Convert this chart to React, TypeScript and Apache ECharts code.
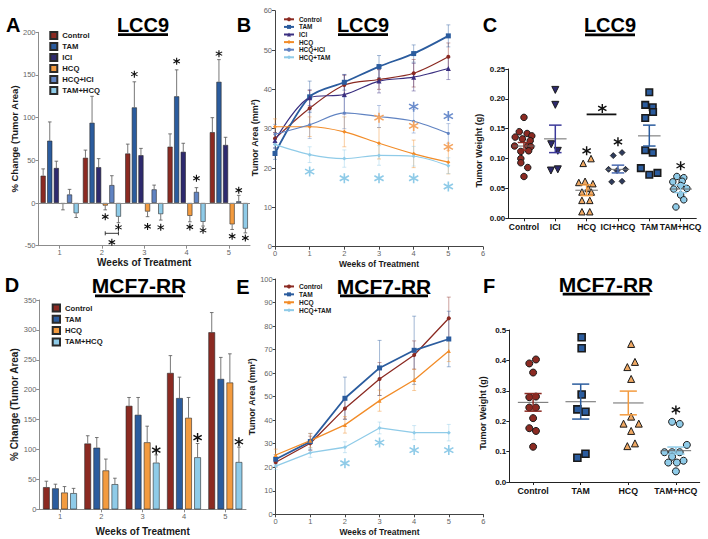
import React, { useEffect, useRef } from 'react';
import * as echarts from 'echarts';

const FONT = 'Liberation Sans, Arial, sans-serif';

const C_CTRL = '#8B2A22';
const C_TAM = '#2B5C9E';
const C_ICI = '#2E2A6E';
const C_HCQ = '#F39B3F';
const C_HCQICI = '#6083C2';
const C_TAMHCQ = '#8FCBE8';
const C_HCQPT = '#EFA863';
const C_ICIHCQPT = '#2E3B5C';

// ---------- Panel A (LCC9, % change bars) ----------
const weeksA = ['1', '2', '3', '4', '5'];
const groupsA = ['Control', 'TAM', 'ICI', 'HCQ', 'HCQ+ICI', 'TAM+HCQ'];
const aControl = [32, 53, 58, 66, 83];
const aTAM = [73, 94, 112, 125, 142];
const aICI = [41, 42, 56, 60, 68];
const aHCQ = [-1, -3, -10, -15, -25];
const aHCQICI = [10, 21, 16, 13, 2];
const aTAMHCQ = [-12, -16, -13, -22, -30];
const aErrControl = [8, 9, 11, 15, 17];
const aErrTAM = [22, 31, 30, 31, 26];
const aErrICI = [8, 10, 8, 10, 9];
const aErrHCQ = [7, 5, 6, 7, 6];
const aErrHCQICI = [6, 11, 5, 5, 7];
const aErrTAMHCQ = [5, 7, 7, 5, 5];
// [week, group index, y]
const aStars = [
  [2, 3, -16], [2, 5, -28.5],
  [3, 1, 151], [3, 3, -27.5], [3, 5, -28.5],
  [4, 1, 166], [4, 4, 29], [4, 3, -28], [4, 5, -32],
  [5, 1, 175], [5, 4, 15], [5, 3, -39], [5, 5, -41],
];
// [week, from group, to group, line y, star y]
const aBracket = [[2, 3, 5, -35.5, -46]];

// ---------- Panel B (LCC9, tumor area lines) ----------
const bWeeks = [0, 1, 2, 3, 4, 5];
const groupsB = ['Control', 'TAM', 'ICI', 'HCQ', 'HCQ+ICI', 'HCQ+TAM'];
const bControl = [27.5, 35.2, 41.1, 42.5, 44.1, 48.3];
const bTAM = [23.7, 38.1, 41.8, 45.8, 49.1, 53.6];
const bICI = [27.0, 37.9, 38.7, 42.1, 43.1, 45.3];
const bHCQ = [30.5, 30.5, 29.2, 26.3, 23.6, 21.5];
const bHCQICI = [28.6, 31.0, 34.0, 33.1, 31.9, 28.8];
const bHCQTAM = [26.0, 23.4, 22.4, 23.2, 23.0, 20.6];
const bErrControl = [1.5, 4.5, 2.5, 2.5, 3.5, 3.5];
const bErrTAM = [1.5, 4, 2, 2.8, 2.2, 2.8];
const bErrICI = [2, 2, 5, 3, 3.5, 2.8];
const bErrHCQ = [2, 2.5, 3.8, 4, 3.5, 3];
const bErrHCQICI = [2.5, 3.5, 4, 2.8, 3, 2.5];
const bErrHCQTAM = [1.5, 2, 2.2, 2.5, 2.5, 2];
const bStarsHCQTAM = [[1, 19.1], [2, 17.4], [3, 17.4], [4, 17.4], [5, 15.3]];
const bStarsHCQ = [[3, 32.8], [4, 30.7], [5, 25.4]];
const bStarsHCQICI = [[4, 35.6], [5, 33.2]];

// ---------- Panel C (LCC9, tumor weight) ----------
const groupsC = ['Control', 'ICI', 'HCQ', 'ICI+HCQ', 'TAM', 'TAM+HCQ'];
// [jitter offset, weight]
const cControl = [[0, 0.169], [-0.15, 0.145], [0.1, 0.142], [-0.28, 0.136], [0.25, 0.138], [-0.05, 0.133], [0.2, 0.13], [-0.3, 0.121], [0.12, 0.121], [0.22, 0.12], [-0.1, 0.112], [0.15, 0.113], [-0.1, 0.1], [-0.1, 0.093], [0.12, 0.085], [0, 0.07]];
const cICI = [[0, 0.215], [0, 0.19], [-0.13, 0.124], [0.08, 0.113], [-0.14, 0.08], [0.08, 0.082]];
const cHCQ = [[0.14, 0.1], [-0.11, 0.092], [-0.25, 0.06], [-0.05, 0.062], [0.2, 0.058], [0.05, 0.05], [-0.15, 0.044], [0.15, 0.044], [-0.15, 0.03], [0.1, 0.03], [-0.15, 0.011], [0.1, 0.011]];
const cICIHCQ = [[-0.15, 0.105], [0.13, 0.11], [-0.3, 0.082], [-0.03, 0.08], [0.24, 0.082], [-0.2, 0.061], [0.13, 0.062]];
const cTAM = [[0, 0.211], [-0.13, 0.19], [0.11, 0.186], [0.12, 0.178], [-0.13, 0.168], [-0.13, 0.114], [0.11, 0.11], [-0.27, 0.084], [0, 0.073], [0.26, 0.076]];
const cTAMHCQ = [[-0.12, 0.07], [0.1, 0.068], [-0.25, 0.061], [0.05, 0.062], [0.2, 0.05], [-0.22, 0.049], [0, 0.055], [0, 0.039], [0.1, 0.031], [-0.15, 0.019]];
const cMean = [0.121, 0.133, 0.047, 0.082, 0.138, 0.049];
const cSemLo = [0.114, 0.110, 0.038, 0.076, 0.121, 0.043];
const cSemHi = [0.127, 0.156, 0.056, 0.089, 0.156, 0.056];
const cStars = [[2, 0.113], [3, 0.128], [5, 0.088], [2.5, 0.184]];
const cBracket = [[2, 2.95, 0.174]];

// ---------- Panel D (MCF7-RR, % change bars) ----------
const weeksD = ['1', '2', '3', '4', '5'];
const groupsD = ['Control', 'TAM', 'HCQ', 'TAM+HCQ'];
const dControl = [37, 110, 173, 228, 296];
const dTAM = [35, 103, 158, 186, 218];
const dHCQ = [28, 65, 112, 153, 212];
const dTAMHCQ = [27, 42, 78, 87, 79];
const dErrControl = [10, 13, 14, 29, 33];
const dErrTAM = [7, 17, 29, 35, 36];
const dErrHCQ = [10, 19, 27, 34, 48];
const dErrTAMHCQ = [8, 10, 13, 23, 25];
const dStars = [[3, 3, 99], [4, 3, 120], [5, 3, 113]];

// ---------- Panel E (MCF7-RR, tumor area lines) ----------
const eWeeks = [0, 1, 2, 3, 4, 5];
const groupsE = ['Control', 'TAM', 'HCQ', 'HCQ+TAM'];
const eControl = [22.1, 30.2, 45.0, 57.5, 67.7, 83.3];
const eTAM = [23.4, 30.9, 49.3, 62.2, 69.7, 74.5];
const eHCQ = [25.2, 31.3, 38.0, 48.3, 57.1, 69.4];
const eHCQTAM = [20.5, 26.2, 28.5, 36.7, 34.7, 34.7];
const eErrControl = [2, 3, 4.5, 7, 6, 9];
const eErrTAM = [2, 3.5, 9, 11.7, 14.5, 11.8];
const eErrHCQ = [2.5, 3, 3.5, 4.5, 4.5, 4.5];
const eErrHCQTAM = [1.5, 2, 2.3, 2.5, 3, 3.5];
const eStars = [[2, 21.7], [3, 30.5], [4, 27.3], [5, 27.3]];

// ---------- Panel F (MCF7-RR, tumor weight) ----------
const groupsF = ['Control', 'TAM', 'HCQ', 'TAM+HCQ'];
const fControl = [[0.06, 0.403], [-0.08, 0.39], [0, 0.36], [-0.08, 0.279], [0.06, 0.281], [-0.08, 0.245], [0.06, 0.245], [0, 0.21], [-0.08, 0.177], [0.06, 0.168], [0, 0.116]];
const fTAM = [[0.02, 0.476], [0.02, 0.44], [0.02, 0.288], [-0.07, 0.239], [0.1, 0.231], [0.1, 0.093], [-0.07, 0.08]];
const fHCQ = [[0.06, 0.454], [0.14, 0.395], [-0.02, 0.378], [0.06, 0.339], [0.06, 0.215], [-0.1, 0.192], [0.22, 0.192], [0.06, 0.168], [0.14, 0.127], [-0.02, 0.118]];
const fTAMHCQ = [[-0.08, 0.198], [0.08, 0.191], [0.23, 0.122], [-0.24, 0.098], [-0.08, 0.098], [0.08, 0.098], [-0.08, 0.083], [0.16, 0.07], [-0.16, 0.064], [0.02, 0.064], [0, 0.035]];
const fMean = [0.262, 0.264, 0.26, 0.103];
const fSemLo = [0.233, 0.207, 0.221, 0.092];
const fSemHi = [0.291, 0.322, 0.299, 0.115];
const fStars = [[3, 0.237]];

const ASTERISK =
  'path://M-0.15,-1L0.15,-1L0.15,1L-0.15,1Z M0.791,-0.63L0.941,-0.37L-0.791,0.63L-0.941,0.37Z M0.941,0.37L0.791,0.63L-0.941,-0.37L-0.791,-0.63Z';

function barOffsets(n: number, catGap: number, gap: number) {
  const used = 1 - catGap;
  const w = used / (n + (n - 1) * gap);
  return Array.from({ length: n }, (_, i) => -used / 2 + w / 2 + i * w * (1 + gap));
}
const offA = barOffsets(6, 0.1, 0.3);
const offD = barOffsets(4, 0.18, 0.35);

const stripName = (n: string) => n.split('|')[1];

const axisGray = '#8c8c8c';
const labelGray = '#666';

function nameStyle(size: number, padding?: number[]) {
  const s: any = { fontWeight: 'bold', fontSize: size, color: '#1a1a1a', fontFamily: FONT };
  if (padding) s.padding = padding;
  return s;
}

function grayValueAxis(extra: any, lineColor: string) {
  return {
    type: 'value',
    axisLine: { show: true, onZero: false, lineStyle: { color: lineColor, width: 1 } },
    axisTick: { show: true, length: 3, lineStyle: { color: lineColor } },
    axisLabel: { color: labelGray, fontSize: 7.5, margin: 3, fontFamily: FONT },
    splitLine: { show: false },
    ...extra,
  };
}

function boldValueAxis(extra: any) {
  return {
    type: 'value',
    axisLine: { show: true, onZero: false, lineStyle: { color: '#222', width: 1 } },
    axisTick: { show: true, length: 3, lineStyle: { color: '#222' } },
    axisLabel: { color: '#111', fontSize: 8, fontWeight: 'bold', margin: 3, fontFamily: FONT },
    splitLine: { show: false },
    ...extra,
  };
}

function oneSidedErr(color: string) {
  return (params: any, api: any) => {
    const x = api.value(0);
    const v = api.value(1);
    const e = api.value(2);
    const end = v >= 0 ? v + e : v - e;
    const p0 = api.coord([x, v]);
    const p1 = api.coord([x, end]);
    const st = { stroke: color, lineWidth: 0.8 };
    return {
      type: 'group',
      children: [
        { type: 'line', shape: { x1: p0[0], y1: p0[1], x2: p1[0], y2: p1[1] }, style: st },
        { type: 'line', shape: { x1: p1[0] - 1.8, y1: p1[1], x2: p1[0] + 1.8, y2: p1[1] }, style: st },
      ],
    };
  };
}

function twoSidedErr(colors: string[]) {
  return (params: any, api: any) => {
    const x = api.value(0);
    const v = api.value(1);
    const e = api.value(2);
    const g = api.value(3);
    const lo = api.coord([x, v - e]);
    const hi = api.coord([x, v + e]);
    const st = { stroke: colors[g], lineWidth: 0.8, opacity: 0.55 };
    return {
      type: 'group',
      children: [
        { type: 'line', shape: { x1: lo[0], y1: lo[1], x2: hi[0], y2: hi[1] }, style: st },
        { type: 'line', shape: { x1: lo[0] - 2, y1: lo[1], x2: lo[0] + 2, y2: lo[1] }, style: st },
        { type: 'line', shape: { x1: hi[0] - 2, y1: hi[1], x2: hi[0] + 2, y2: hi[1] }, style: st },
      ],
    };
  };
}

function meanSem(colors: string[], meanHalf: number, capHalf: number) {
  return (params: any, api: any) => {
    const i = api.value(0);
    const m = api.value(1);
    const lo = api.value(2);
    const hi = api.value(3);
    const a = api.coord([i - meanHalf, m]);
    const b = api.coord([i + meanHalf, m]);
    const l = api.coord([i, lo]);
    const h = api.coord([i, hi]);
    const cl = api.coord([i - capHalf, lo]);
    const cr = api.coord([i + capHalf, lo]);
    const hl = api.coord([i - capHalf, hi]);
    const hr = api.coord([i + capHalf, hi]);
    const col = colors[params.dataIndex];
    const sem = { stroke: col, lineWidth: 1.5 };
    return {
      type: 'group',
      children: [
        { type: 'line', shape: { x1: a[0], y1: a[1], x2: b[0], y2: b[1] }, style: { stroke: '#6b6b6b', lineWidth: 1 } },
        { type: 'line', shape: { x1: l[0], y1: l[1], x2: h[0], y2: h[1] }, style: sem },
        { type: 'line', shape: { x1: cl[0], y1: cl[1], x2: cr[0], y2: cr[1] }, style: sem },
        { type: 'line', shape: { x1: hl[0], y1: hl[1], x2: hr[0], y2: hr[1] }, style: sem },
      ],
    };
  };
}

function starSeries(data: number[][], xi: number, yi: number, color: string, size: number) {
  return {
    type: 'scatter',
    xAxisIndex: xi,
    yAxisIndex: yi,
    symbol: ASTERISK,
    symbolSize: size,
    itemStyle: { color, opacity: 1 },
    data,
    silent: true,
    z: 5,
  };
}

function buildOption(): any {
  const series: any[] = [];

  // ----- A -----
  const aVals = [aControl, aTAM, aICI, aHCQ, aHCQICI, aTAMHCQ];
  const aErrs = [aErrControl, aErrTAM, aErrICI, aErrHCQ, aErrHCQICI, aErrTAMHCQ];
  const aColors = [C_CTRL, C_TAM, C_ICI, C_HCQ, C_HCQICI, C_TAMHCQ];
  aVals.forEach((vals, g) => {
    const s: any = {
      type: 'bar',
      name: 'A|' + groupsA[g],
      xAxisIndex: 0,
      yAxisIndex: 0,
      data: vals,
      barGap: '30%',
      barCategoryGap: '10%',
      itemStyle: { color: aColors[g], borderColor: '#2a2a2a', borderWidth: 0.6 },
    };
    if (g === 0) {
      s.markLine = {
        silent: true,
        symbol: ['none', 'none'],
        label: { show: false },
        lineStyle: { color: axisGray, type: 'solid', width: 1 },
        data: [{ yAxis: 0 }],
      };
    }
    series.push(s);
  });
  const aErrData: number[][] = [];
  aVals.forEach((vals, g) => vals.forEach((v, k) => aErrData.push([k + 1 + offA[g], v, aErrs[g][k]])));
  series.push({ type: 'custom', xAxisIndex: 1, yAxisIndex: 0, data: aErrData, renderItem: oneSidedErr('#555'), silent: true, z: 3 });
  const aStarData = aStars.map(([w, g, y]) => [w + offA[g], y]);
  aBracket.forEach(([w, g1, g2, , ys]) => aStarData.push([w + (offA[g1] + offA[g2]) / 2, ys]));
  series.push(starSeries(aStarData, 1, 0, '#111', 7));
  series.push({
    type: 'custom',
    xAxisIndex: 1,
    yAxisIndex: 0,
    encode: { x: [0, 1], y: 2 },
    data: aBracket.map(([w, g1, g2, y]) => [w + offA[g1], w + offA[g2], y]),
    silent: true,
    renderItem: (params: any, api: any) => {
      const p1 = api.coord([api.value(0), api.value(2)]);
      const p2 = api.coord([api.value(1), api.value(2)]);
      const st = { stroke: '#222', lineWidth: 0.9 };
      return {
        type: 'group',
        children: [
          { type: 'line', shape: { x1: p1[0], y1: p1[1], x2: p2[0], y2: p2[1] }, style: st },
          { type: 'line', shape: { x1: p1[0], y1: p1[1] - 2, x2: p1[0], y2: p1[1] + 2 }, style: st },
          { type: 'line', shape: { x1: p2[0], y1: p2[1] - 2, x2: p2[0], y2: p2[1] + 2 }, style: st },
        ],
      };
    },
  });

  // ----- B -----
  const bVals = [bControl, bTAM, bICI, bHCQ, bHCQICI, bHCQTAM];
  const bErrs = [bErrControl, bErrTAM, bErrICI, bErrHCQ, bErrHCQICI, bErrHCQTAM];
  const bColors = [C_CTRL, C_TAM, '#3A2F80', '#F28C28', C_HCQICI, C_TAMHCQ];
  const bSymbols = ['circle', 'rect', 'triangle', 'diamond', 'circle', 'diamond'];
  const bSizes = [4, 5, 5, 4, 3, 4];
  const bErrData: number[][] = [];
  bVals.forEach((vals, g) => vals.forEach((v, k) => bErrData.push([bWeeks[k], v, bErrs[g][k], g])));
  series.push({ type: 'custom', xAxisIndex: 2, yAxisIndex: 1, data: bErrData, renderItem: twoSidedErr(bColors), silent: true, z: 1 });
  bVals.forEach((vals, g) => {
    series.push({
      type: 'line',
      name: 'B|' + groupsB[g],
      xAxisIndex: 2,
      yAxisIndex: 1,
      data: vals.map((v, k) => [bWeeks[k], v]),
      smooth: 0.3,
      symbol: bSymbols[g],
      symbolSize: bSizes[g],
      showSymbol: true,
      lineStyle: { color: bColors[g], width: g === 1 ? 1.8 : 1.2 },
      itemStyle: { color: bColors[g] },
      z: 2,
    });
  });
  series.push(starSeries(bStarsHCQTAM, 2, 1, '#8FCBE8', 10));
  series.push(starSeries(bStarsHCQ, 2, 1, '#F4A460', 10));
  series.push(starSeries(bStarsHCQICI, 2, 1, '#6A8CCC', 10));

  // ----- C -----
  const cPts = [cControl, cICI, cHCQ, cICIHCQ, cTAM, cTAMHCQ];
  const cFill = [C_CTRL, C_ICI, C_HCQPT, C_ICIHCQPT, C_TAM, C_TAMHCQ];
  const cSym = ['circle', 'triangle', 'triangle', 'diamond', 'rect', 'circle'];
  const cRot = [0, 180, 0, 0, 0, 0];
  const cSize = [6.5, 7, 6.5, 6, 6.5, 6.5];
  const cBorder = [1, 1, 1, 0.8, 1.6, 1];
  cPts.forEach((pts, g) => {
    series.push({
      type: 'scatter',
      name: 'C|' + groupsC[g],
      xAxisIndex: 4,
      yAxisIndex: 2,
      symbol: cSym[g],
      symbolRotate: cRot[g],
      symbolSize: cSize[g],
      itemStyle: { color: cFill[g], borderColor: '#1a1a1a', borderWidth: cBorder[g], opacity: 1 },
      data: pts.map(([o, v]) => [g + o, v]),
      z: 2,
    });
  });
  const cSemColors = [C_CTRL, '#3C3A9A', C_HCQ, '#4A6AB0', C_TAM, C_TAMHCQ];
  series.push({
    type: 'custom',
    xAxisIndex: 4,
    yAxisIndex: 2,
    data: cMean.map((m, i) => [i, m, cSemLo[i], cSemHi[i]]),
    renderItem: meanSem(cSemColors, 0.36, 0.2),
    silent: true,
    z: 3,
  });
  series.push(starSeries(cStars, 4, 2, '#111', 9));
  series.push({
    type: 'custom',
    xAxisIndex: 4,
    yAxisIndex: 2,
    encode: { x: [0, 1], y: 2 },
    data: cBracket,
    silent: true,
    renderItem: (params: any, api: any) => {
      const p1 = api.coord([api.value(0), api.value(2)]);
      const p2 = api.coord([api.value(1), api.value(2)]);
      return { type: 'line', shape: { x1: p1[0], y1: p1[1], x2: p2[0], y2: p2[1] }, style: { stroke: '#111', lineWidth: 1.8 } };
    },
  });

  // ----- D -----
  const dVals = [dControl, dTAM, dHCQ, dTAMHCQ];
  const dErrs = [dErrControl, dErrTAM, dErrHCQ, dErrTAMHCQ];
  const dColors = [C_CTRL, C_TAM, C_HCQ, C_TAMHCQ];
  dVals.forEach((vals, g) => {
    series.push({
      type: 'bar',
      name: 'D|' + groupsD[g],
      xAxisIndex: 5,
      yAxisIndex: 3,
      data: vals,
      barGap: '35%',
      barCategoryGap: '18%',
      itemStyle: { color: dColors[g], borderColor: '#2a2a2a', borderWidth: 0.6 },
    });
  });
  const dErrData: number[][] = [];
  dVals.forEach((vals, g) => vals.forEach((v, k) => dErrData.push([k + 1 + offD[g], v, dErrs[g][k]])));
  series.push({ type: 'custom', xAxisIndex: 6, yAxisIndex: 3, data: dErrData, renderItem: oneSidedErr('#555'), silent: true, z: 3 });
  series.push(starSeries(dStars.map(([w, g, y]) => [w + offD[g], y]), 6, 3, '#111', 9));

  // ----- E -----
  const eVals = [eControl, eTAM, eHCQ, eHCQTAM];
  const eErrs = [eErrControl, eErrTAM, eErrHCQ, eErrHCQTAM];
  const eColors = [C_CTRL, C_TAM, '#F28C28', C_TAMHCQ];
  const eSymbols = ['circle', 'rect', 'triangle', 'diamond'];
  const eSizes = [4, 5, 4, 4];
  const eErrData: number[][] = [];
  eVals.forEach((vals, g) => vals.forEach((v, k) => eErrData.push([eWeeks[k], v, eErrs[g][k], g])));
  series.push({ type: 'custom', xAxisIndex: 7, yAxisIndex: 4, data: eErrData, renderItem: twoSidedErr(eColors), silent: true, z: 1 });
  eVals.forEach((vals, g) => {
    series.push({
      type: 'line',
      name: 'E|' + groupsE[g],
      xAxisIndex: 7,
      yAxisIndex: 4,
      data: vals.map((v, k) => [eWeeks[k], v]),
      symbol: eSymbols[g],
      symbolSize: eSizes[g],
      showSymbol: true,
      lineStyle: { color: eColors[g], width: g === 1 ? 1.8 : 1.3 },
      itemStyle: { color: eColors[g] },
      z: 2,
    });
  });
  series.push(starSeries(eStars, 7, 4, '#8FCBE8', 10));

  // ----- F -----
  const fPts = [fControl, fTAM, fHCQ, fTAMHCQ];
  const fFill = [C_CTRL, C_TAM, C_HCQPT, C_TAMHCQ];
  const fSym = ['circle', 'rect', 'triangle', 'circle'];
  const fSize = [7, 7, 7, 7];
  const fBorder = [1, 1.6, 1, 1];
  fPts.forEach((pts, g) => {
    series.push({
      type: 'scatter',
      name: 'F|' + groupsF[g],
      xAxisIndex: 9,
      yAxisIndex: 5,
      symbol: fSym[g],
      symbolSize: fSize[g],
      itemStyle: { color: fFill[g], borderColor: '#1a1a1a', borderWidth: fBorder[g], opacity: 1 },
      data: pts.map(([o, v]) => [g + o, v]),
      z: 2,
    });
  });
  const fSemColors = [C_CTRL, C_TAM, C_HCQ, C_TAMHCQ];
  series.push({
    type: 'custom',
    xAxisIndex: 9,
    yAxisIndex: 5,
    data: fMean.map((m, i) => [i, m, fSemLo[i], fSemHi[i]]),
    renderItem: meanSem(fSemColors, 0.32, 0.18),
    silent: true,
    z: 3,
  });
  series.push(starSeries(fStars, 9, 5, '#111', 9));

  const catAxisGray = (gridIndex: number, data: string[], nameGap: number) => ({
    type: 'category',
    gridIndex,
    data,
    axisLine: { show: true, onZero: false, lineStyle: { color: axisGray } },
    axisTick: { show: true, alignWithLabel: true, length: 3, lineStyle: { color: axisGray } },
    axisLabel: { color: labelGray, fontSize: 7.5, margin: 3, fontFamily: FONT },
    name: 'Weeks of Treatment',
    nameLocation: 'middle',
    nameGap,
    nameTextStyle: nameStyle(10),
  });
  const catAxisBold = (gridIndex: number, data: string[], size: number) => ({
    type: 'category',
    gridIndex,
    data,
    axisLine: { show: true, onZero: false, lineStyle: { color: '#222' } },
    axisTick: { show: true, alignWithLabel: true, length: 3, lineStyle: { color: '#222' } },
    axisLabel: { color: '#111', fontSize: size, fontWeight: 'bold', margin: 4, interval: 0, fontFamily: FONT },
  });

  const xAxis = [
    catAxisGray(0, weeksA, 12),
    { type: 'value', gridIndex: 0, min: 0.5, max: 5.5, show: false },
    grayValueAxis({ gridIndex: 1, min: 0, max: 6, interval: 1, name: 'Weeks of Treatment', nameLocation: 'middle', nameGap: 13, nameTextStyle: nameStyle(8.5) }, '#444'),
    catAxisBold(2, groupsC, 8.5),
    { type: 'value', gridIndex: 2, min: -0.5, max: 5.5, show: false },
    catAxisGray(3, weeksD, 17),
    { type: 'value', gridIndex: 3, min: 0.5, max: 5.5, show: false },
    grayValueAxis({ gridIndex: 4, min: 0, max: 6, interval: 1, name: 'Weeks of Treatment', nameLocation: 'middle', nameGap: 13, nameTextStyle: nameStyle(8.5) }, '#444'),
    catAxisBold(5, groupsF, 8.8),
    { type: 'value', gridIndex: 5, min: -0.5, max: 3.5, show: false },
  ];

  const yAxis = [
    grayValueAxis({ gridIndex: 0, min: -50, max: 200, interval: 50, name: '% Change (Tumor Area)', nameLocation: 'middle', nameGap: 18, nameTextStyle: nameStyle(9.5) }, axisGray),
    grayValueAxis({ gridIndex: 1, min: 0, max: 60, interval: 10, name: 'Tumor Area (mm²)', nameLocation: 'middle', nameGap: 12, nameTextStyle: nameStyle(9, [0, 18, 0, 0]) }, '#444'),
    boldValueAxis({ gridIndex: 2, min: 0, max: 0.25, interval: 0.05, axisLabel: { color: '#111', fontSize: 8, fontWeight: 'bold', margin: 3, fontFamily: FONT, formatter: (v: number) => v.toFixed(2) }, name: 'Tumor Weight (g)', nameLocation: 'middle', nameGap: 25, nameTextStyle: nameStyle(9, [0, 14, 0, 0]) }),
    grayValueAxis({ gridIndex: 3, min: 0, max: 350, interval: 50, name: '% Change (Tumor Area)', nameLocation: 'middle', nameGap: 20, nameTextStyle: nameStyle(10) }, axisGray),
    grayValueAxis({ gridIndex: 4, min: 0, max: 100, interval: 10, name: 'Tumor Area (mm²)', nameLocation: 'middle', nameGap: 16, nameTextStyle: nameStyle(9) }, '#444'),
    boldValueAxis({ gridIndex: 5, min: 0, max: 0.5, interval: 0.1, axisLabel: { color: '#111', fontSize: 8, fontWeight: 'bold', margin: 3, fontFamily: FONT, formatter: (v: number) => v.toFixed(1) }, name: 'Tumor Weight (g)', nameLocation: 'middle', nameGap: 22, nameTextStyle: nameStyle(9, [0, 14, 0, 0]) }),
  ];

  const grid = [
    { left: 38.5, top: 32.3, width: 211.5, height: 213.4 },
    { left: 275, top: 10.7, width: 208, height: 236 },
    { left: 508.3, top: 69, width: 188, height: 149.3 },
    { left: 39.3, top: 300, width: 206.7, height: 209.3 },
    { left: 275.7, top: 279, width: 207.7, height: 235.3 },
    { left: 509.3, top: 330, width: 190.4, height: 152 },
  ];

  const legendText = (size: number, lh: number) => ({ fontSize: size, fontWeight: 'bold', color: '#1a1a1a', lineHeight: lh, fontFamily: FONT });
  const legend = [
    { left: 49.3, top: 31, orient: 'vertical', padding: 0, itemWidth: 7, itemHeight: 7, itemGap: 2, icon: 'rect', selectedMode: false, data: groupsA.map((g) => 'A|' + g), formatter: stripName, textStyle: legendText(7.7, 8) },
    { left: 283, top: 15.5, orient: 'vertical', padding: 0, itemWidth: 10, itemHeight: 5, itemGap: 0, selectedMode: false, data: groupsB.map((g) => 'B|' + g), formatter: stripName, textStyle: legendText(6.4, 7.6) },
    { left: 51.7, top: 303.5, orient: 'vertical', padding: 0, itemWidth: 7.3, itemHeight: 7, itemGap: 2.3, icon: 'rect', selectedMode: false, data: groupsD.map((g) => 'D|' + g), formatter: stripName, textStyle: legendText(7.7, 8) },
    { left: 283, top: 282.5, orient: 'vertical', padding: 0, itemWidth: 10, itemHeight: 5, itemGap: 0, selectedMode: false, data: groupsE.map((g) => 'E|' + g), formatter: stripName, textStyle: legendText(6.6, 7.9) },
  ];

  const letter = (t: string, x: number, y: number) => ({
    type: 'text',
    silent: true,
    style: { text: t, x, y, font: `bold 20px ${FONT}`, fill: '#000', textAlign: 'center', textVerticalAlign: 'middle' },
  });
  const title = (t: string, x: number, y: number, size: number) => ({
    type: 'text',
    silent: true,
    style: { text: t, x, y, font: `bold ${size}px ${FONT}`, fill: '#000', textAlign: 'center', textVerticalAlign: 'middle' },
  });
  const underline = (x: number, y: number, w: number) => ({
    type: 'rect',
    silent: true,
    shape: { x, y, width: w, height: 2.8 },
    style: { fill: '#000' },
  });

  const graphic = [
    letter('A', 13.3, 25),
    letter('B', 244, 24.5),
    letter('C', 490, 25),
    letter('D', 12, 285),
    letter('E', 243, 286.5),
    letter('F', 489, 285.5),
    title('LCC9', 143, 25, 20),
    title('LCC9', 363, 24.5, 20),
    title('LCC9', 610, 25, 20),
    title('MCF7-RR', 139, 285, 21),
    title('MCF7-RR', 384, 286, 21),
    title('MCF7-RR', 606, 284.5, 21),
    underline(118, 33.3, 50),
    underline(338, 33.3, 50),
    underline(585, 33.5, 50),
    underline(95, 294.5, 88),
    underline(340, 294.5, 88),
    underline(562.7, 292.8, 87),
  ];

  return {
    animation: false,
    backgroundColor: '#fff',
    textStyle: { fontFamily: FONT },
    grid,
    xAxis,
    yAxis,
    legend,
    series,
    graphic,
  };
}

export default function App() {
  const ref = useRef<HTMLDivElement>(null);
  useEffect(() => {
    if (!ref.current) return;
    const chart = echarts.init(ref.current, undefined, { renderer: 'svg' });
    chart.setOption(buildOption());
    return () => {
      chart.dispose();
    };
  }, []);
  return (
    <div
      ref={ref}
      style={{ position: 'fixed', left: 0, top: 0, width: 708, height: 539, background: '#fff' }}
    />
  );
}
